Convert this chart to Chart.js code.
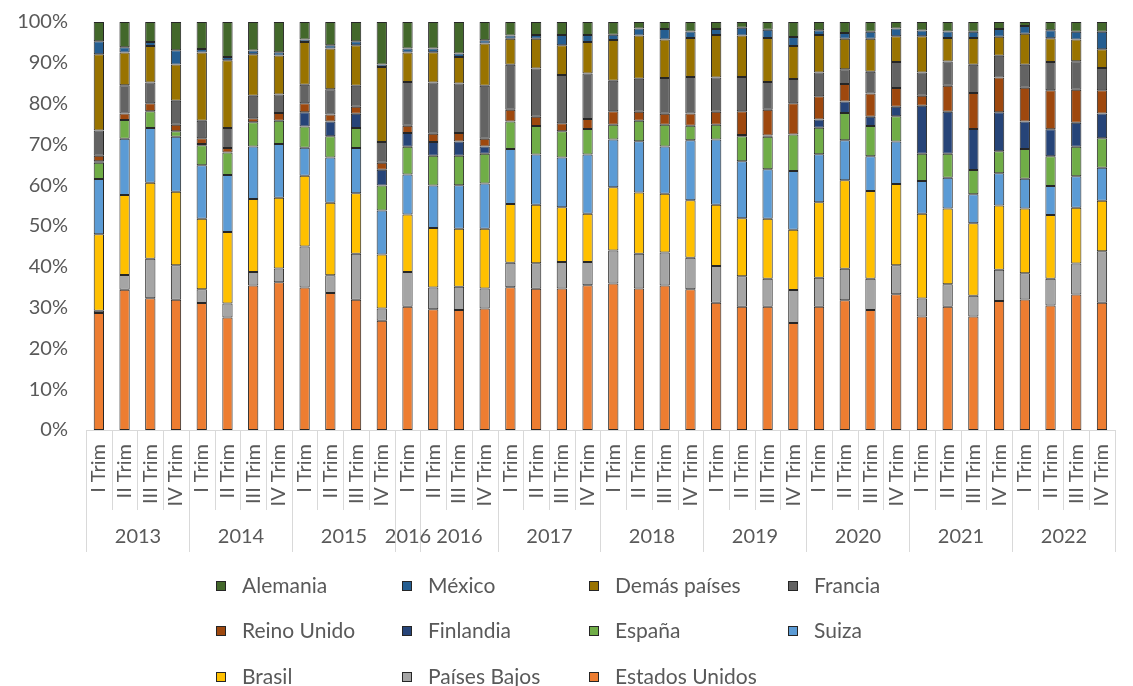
<!DOCTYPE html>
<html>
<head>
<meta charset="utf-8">
<script src="https://cdn.jsdelivr.net/npm/chart.js@4.4.0/dist/chart.umd.min.js"></script>
<style>
  html, body { margin: 0; padding: 0; background: #fff; overflow: hidden; }
  #wrap { width: 1140px; height: 686px; }
</style>
</head>
<body>
<div id="wrap"><canvas id="chart" width="1140" height="686"></canvas></div>
<script>
// trimestres y años del eje
const quarterLabels = [
  'I Trim', 'II Trim', 'III Trim', 'IV Trim', 'I Trim', 'II Trim', 'III Trim', 'IV Trim',
  'I Trim', 'II Trim', 'III Trim', 'IV Trim', 'I Trim', 'II Trim', 'III Trim', 'IV Trim',
  'I Trim', 'II Trim', 'III Trim', 'IV Trim', 'I Trim', 'II Trim', 'III Trim', 'IV Trim',
  'I Trim', 'II Trim', 'III Trim', 'IV Trim', 'I Trim', 'II Trim', 'III Trim', 'IV Trim',
  'I Trim', 'II Trim', 'III Trim', 'IV Trim', 'I Trim', 'II Trim', 'III Trim', 'IV Trim'
];
const yearLabels = ['2013', '2014', '2015', '2016', '2016', '2017', '2018', '2019', '2020', '2021', '2022'];
const yearSpans = [4, 4, 4, 1, 3, 4, 4, 4, 4, 4, 4];

// participación (%) por país
const estadosUnidos = [28.7,34.4,32.3,31.9, 31.1,27.6,35.4,36.2, 34.9,33.6,31.9,26.8, 30.2,29.6,29.4,29.8, 35.0,34.6,34.7,35.5, 35.9,34.7,35.4,34.5, 31.2,30.2,30.2,26.2, 30.2,31.8,29.4,33.3, 27.8,30.2,27.8,31.6, 32.0,30.5,33.2,31.2];
const paisesBajos = [0.5,3.6,9.7,8.5, 3.4,3.4,3.3,3.4, 10.1,4.3,11.3,3.0, 8.5,5.3,5.7,4.9, 6.0,6.3,6.5,5.7, 8.1,8.5,8.1,7.7, 9.0,7.5,6.9,8.1, 7.1,7.7,7.7,7.1, 4.4,5.5,5.1,7.7, 6.4,6.6,7.6,12.6];
const brasil = [18.8,19.6,18.6,18.0, 17.3,17.5,17.9,17.3, 17.3,17.8,14.8,13.2, 14.1,14.6,14.2,14.6, 14.4,14.3,13.4,11.8, 15.5,15.0,14.4,14.1, 15.0,14.2,14.7,14.8, 18.5,21.7,21.5,19.9, 20.8,18.6,17.8,15.7, 15.9,15.6,13.7,12.4];
const suiza = [13.5,13.8,13.4,13.5, 13.1,14.0,12.9,13.2, 6.9,11.1,11.1,10.8, 9.8,10.4,10.7,11.1, 13.5,12.3,12.2,14.5, 11.7,12.6,11.6,14.7, 16.0,14.0,12.1,14.4, 11.8,9.8,8.5,10.4, 8.0,7.5,7.1,7.9, 7.3,7.1,7.7,8.1];
const espana = [4.0,4.6,4.1,1.3, 4.9,5.5,5.9,5.7, 5.2,5.2,4.9,6.1, 6.8,7.3,7.2,7.3, 6.7,7.0,6.4,6.3, 3.6,5.0,5.3,3.6, 3.6,6.1,8.0,8.9, 6.5,6.7,7.4,6.2, 6.7,5.9,5.9,5.4, 7.3,7.3,7.2,7.2];
const finlandia = [0.4,0,0,0, 0.3,0,0,0, 3.5,3.6,3.5,3.9, 3.4,3.4,3.5,1.8, 0,0,0,0, 0,0,0,0, 0,0.3,0.3,0, 2.0,2.8,2.3,2.3, 11.8,10.3,10.1,9.6, 6.7,6.6,5.9,6.1];
const reinoUnido = [1.3,1.6,2.0,1.6, 1.4,1.1,1.0,1.9, 2.2,1.7,1.7,1.7, 1.8,2.0,2.1,1.9, 2.9,2.3,2.0,2.4, 3.3,2.2,2.7,3.0, 3.2,5.8,6.3,7.7, 5.7,4.3,5.7,4.6, 2.4,6.4,8.8,8.5, 8.3,9.6,8.1,5.7];
const francia = [6.2,6.9,5.1,5.9, 4.3,4.9,5.5,4.5, 4.5,6.2,5.2,5.1, 10.7,12.6,12.1,13.0, 11.0,11.8,11.8,11.2, 7.5,8.1,8.8,8.9, 8.4,8.4,6.8,5.9, 5.8,3.6,5.3,6.4, 5.7,5.9,6.9,5.3, 5.6,6.9,7.0,5.4];
const demasPaises = [18.7,8.0,8.9,8.9, 16.7,16.6,10.2,9.6, 10.5,10.0,9.9,18.4, 7.2,7.4,6.5,10.3, 6.4,7.3,7.3,7.7, 10.0,10.6,9.4,9.6, 10.4,10.2,10.8,8.1, 9.2,7.5,8.1,6.3, 8.9,5.8,6.6,4.7, 7.6,5.8,5.3,4.6];
const mexico = [3.2,1.3,1.0,3.5, 0.9,0.8,0.9,0.8, 0.6,0.8,1.0,0.6, 1.0,0.9,0.9,0.8, 0.8,0.9,2.5,1.7, 1.3,1.7,2.6,1.6, 1.5,1.9,2.0,2.2, 1.2,1.4,1.7,1.9, 1.4,1.6,1.5,1.9, 1.9,2.0,1.9,4.3];
const alemania = [4.7,6.2,4.9,6.9, 6.6,8.6,7.0,7.4, 4.3,5.7,4.7,10.4, 6.5,6.5,7.7,4.5, 3.3,3.2,3.2,3.2, 3.1,1.6,1.7,2.3, 1.7,1.4,1.9,3.7, 2.0,2.7,2.4,1.6, 2.1,2.3,2.4,1.7, 1.0,2.0,2.4,2.4];

const FONT = 'Lato, "Open Sans", sans-serif';
const TEXT = '#595959';
const LINE = '#d9d9d9';

function serie(label, data, color) {
  return {
    label: label,
    data: data,
    backgroundColor: color,
    borderColor: '#262626',
    borderWidth: 1,
    borderSkipped: false,
    barPercentage: 0.4,
    categoryPercentage: 1.0
  };
}

// separadores y años bajo el eje, leyenda en rejilla
const axisExtras = {
  id: 'axisExtras',
  afterDraw(chart) {
    const ctx = chart.ctx;
    const xs = chart.scales.x;
    const area = chart.chartArea;
    const n = quarterLabels.length;
    const step = (area.right - area.left) / n;
    const edge = i => Math.round(xs.getPixelForTick(0) - step / 2 + i * step) + 0.5;

    const yearEdges = [0];
    yearSpans.forEach(s => yearEdges.push(yearEdges[yearEdges.length - 1] + s));

    ctx.save();
    ctx.strokeStyle = LINE;
    ctx.lineWidth = 1;
    for (let i = 0; i <= n; i++) {
      const long = yearEdges.includes(i);
      ctx.beginPath();
      ctx.moveTo(edge(i), area.bottom);
      ctx.lineTo(edge(i), area.bottom + (long ? 122 : 80));
      ctx.stroke();
    }

    ctx.fillStyle = TEXT;
    ctx.font = '20px ' + FONT;
    ctx.textAlign = 'center';
    ctx.textBaseline = 'middle';
    yearLabels.forEach((y, k) => {
      const cx = (edge(yearEdges[k]) + edge(yearEdges[k + 1])) / 2;
      ctx.fillText(y, cx, area.bottom + 107);
    });

    // leyenda: de arriba hacia abajo de la pila
    const cols = [216, 402, 589, 788];
    const rows = [586, 631, 677];
    const items = chart.data.datasets.slice().reverse();
    ctx.textAlign = 'left';
    ctx.font = '21px ' + FONT;
    items.forEach((ds, k) => {
      const cx = cols[k % 4];
      const cy = rows[Math.floor(k / 4)];
      ctx.fillStyle = ds.backgroundColor;
      ctx.fillRect(cx, cy - 5, 10, 10);
      ctx.strokeStyle = '#262626';
      ctx.strokeRect(cx + 0.5, cy - 4.5, 9, 9);
      ctx.fillStyle = TEXT;
      ctx.fillText(ds.label, cx + 26, cy);
    });
    ctx.restore();
  }
};

new Chart(document.getElementById('chart'), {
  type: 'bar',
  data: {
    labels: quarterLabels,
    datasets: [
      serie('Estados Unidos', estadosUnidos, '#ED7D31'),
      serie('Países Bajos', paisesBajos, '#A5A5A5'),
      serie('Brasil', brasil, '#FFC000'),
      serie('Suiza', suiza, '#5B9BD5'),
      serie('España', espana, '#70AD47'),
      serie('Finlandia', finlandia, '#264478'),
      serie('Reino Unido', reinoUnido, '#9E480E'),
      serie('Francia', francia, '#636363'),
      serie('Demás países', demasPaises, '#997300'),
      serie('México', mexico, '#255E91'),
      serie('Alemania', alemania, '#43682B')
    ]
  },
  options: {
    responsive: false,
    animation: false,
    layout: { padding: { top: 8, left: 0, right: 2, bottom: 0 } },
    plugins: {
      legend: { display: false },
      tooltip: { enabled: false }
    },
    scales: {
      x: {
        stacked: true,
        grid: { display: true, drawOnChartArea: false, drawTicks: false },
        border: { display: true, color: LINE, width: 1 },
        ticks: {
          autoSkip: false,
          minRotation: 90,
          maxRotation: 90,
          padding: 14,
          color: TEXT,
          font: { family: FONT, size: 20 }
        },
        afterFit(scale) { scale.height = 256; }
      },
      y: {
        stacked: true,
        min: 0,
        max: 100,
        grid: { display: false },
        border: { display: false },
        ticks: {
          stepSize: 10,
          padding: 10,
          color: TEXT,
          font: { family: FONT, size: 20 },
          callback: v => v + '%'
        },
        afterFit(scale) { scale.width = 86; }
      }
    }
  },
  plugins: [axisExtras]
});
</script>
</body>
</html>
